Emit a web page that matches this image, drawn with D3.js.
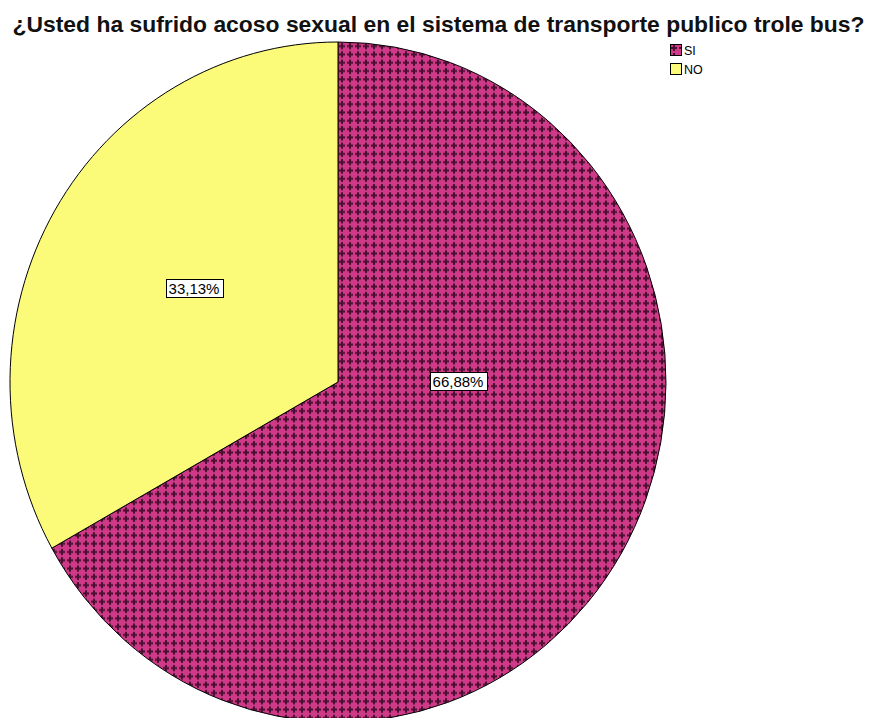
<!DOCTYPE html>
<html>
<head>
<meta charset="utf-8">
<script src="https://cdn.jsdelivr.net/npm/d3@7"></script>
<style>
  body { margin: 0; background: #fff; }
  svg { display: block; font-family: "Liberation Sans", Arial, sans-serif; }
</style>
</head>
<body>
<svg id="chart" width="870" height="718"></svg>
<script>
// Survey answers and their shares (%)
const categories = ["SI", "NO"];
const percents = [66.88, 33.13];
const labels = ["66,88%", "33,13%"];
const fills = ["url(#crossPattern)", "#fbfa79"];

// Label anchor offsets from the pie centre (layout only)
const labelOffsets = [[120, -1], [-144, -94]];

const svg = d3.select("#chart");
const defs = svg.append("defs");

// Magenta fill with dark plus-shaped crosshatch
const p = defs.append("pattern")
  .attr("id", "crossPattern")
  .attr("patternUnits", "userSpaceOnUse")
  .attr("width", 8).attr("height", 8);
p.append("rect").attr("width", 8).attr("height", 8).attr("fill", "#cf3a88");
p.append("rect").attr("x", 3).attr("y", 1).attr("width", 2).attr("height", 6).attr("fill", "#4a0f31");
p.append("rect").attr("x", 1).attr("y", 3).attr("width", 6).attr("height", 2).attr("fill", "#4a0f31");

// Title
svg.append("text")
  .attr("x", 438.5).attr("y", 32)
  .attr("text-anchor", "middle")
  .attr("font-size", 22).attr("font-weight", "bold")
  .attr("textLength", 852).attr("lengthAdjust", "spacingAndGlyphs")
  .attr("fill", "#111")
  .text("¿Usted ha sufrido acoso sexual en el sistema de transporte publico trole bus?");

// Pie
const cx = 338, cy = 382, rx = 328, ry = 340;
const pie = d3.pie().sort(null).value(d => d)(percents);
const arc = d3.arc().innerRadius(0).outerRadius(rx);

const g = svg.append("g").attr("transform", `translate(${cx},${cy}) scale(1,${ry / rx})`);
g.selectAll("path")
  .data(pie)
  .join("path")
  .attr("d", arc)
  .attr("fill", (d, i) => fills[i])
  .attr("stroke", "#000")
  .attr("stroke-width", 1)
  .attr("vector-effect", "non-scaling-stroke");

// Value labels in white boxes
const lg = svg.append("g");
pie.forEach((d, i) => {
  const x = cx + labelOffsets[i][0], y = cy + labelOffsets[i][1];
  const t = lg.append("text")
    .attr("x", x).attr("y", y)
    .attr("text-anchor", "middle")
    .attr("dominant-baseline", "central")
    .attr("font-size", 15)
    .attr("fill", "#000")
    .text(labels[i]);
  const bb = t.node().getBBox();
  lg.insert("rect", "text")
    .attr("x", Math.round(bb.x - 3) + 0.5).attr("y", Math.round(y - 9) + 0.5)
    .attr("width", Math.round(bb.width + 6)).attr("height", 18)
    .attr("fill", "#fff").attr("stroke", "#000").attr("stroke-width", 1);
});

// Legend
const leg = svg.append("g").attr("transform", "translate(670,44)");
categories.forEach((c, i) => {
  const row = leg.append("g").attr("transform", `translate(0,${i * 19})`);
  row.append("rect").attr("x", 0.5).attr("y", 0.5).attr("width", 11).attr("height", 11)
    .attr("fill", fills[i]).attr("stroke", "#000");
  row.append("text").attr("x", 14).attr("y", 10.5)
    .attr("font-size", 12.5).attr("fill", "#000").text(c);
});
</script>
</body>
</html>
